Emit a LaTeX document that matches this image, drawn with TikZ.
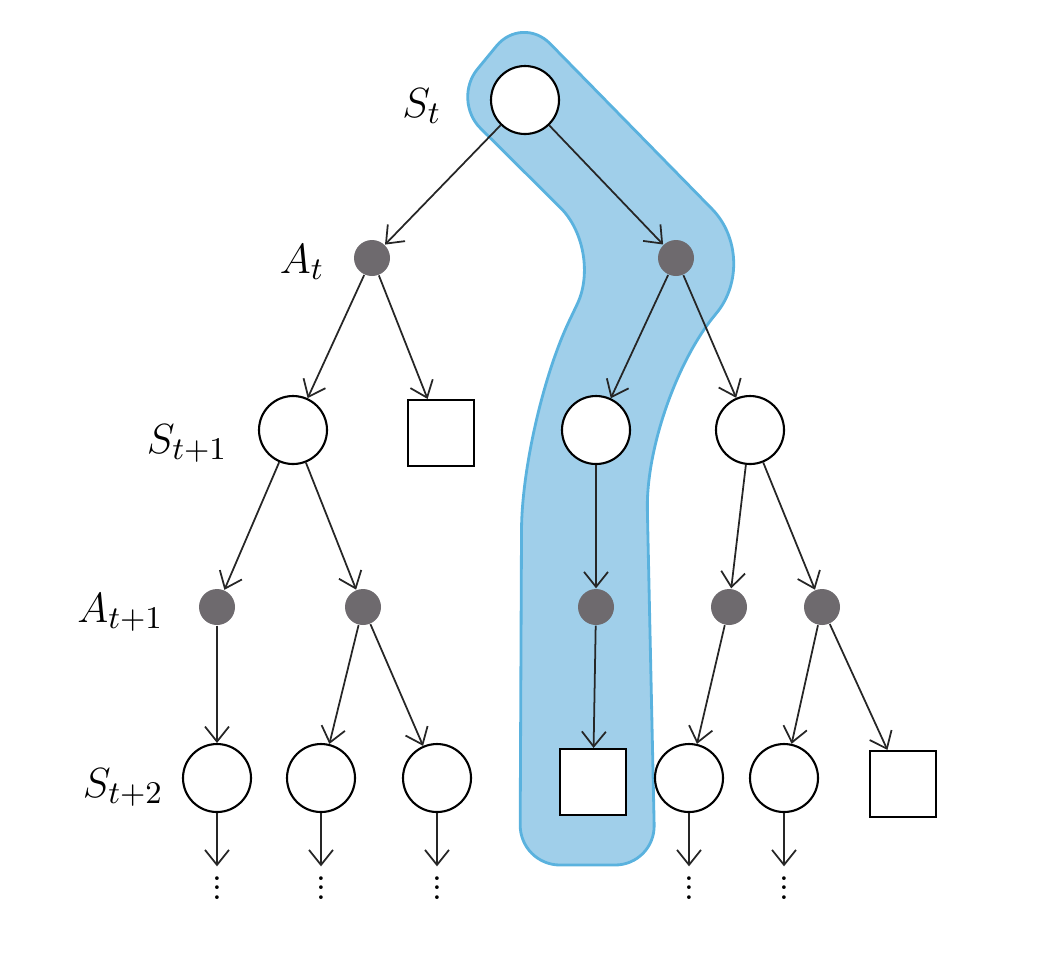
\documentclass[tikz,border=0pt]{standalone}
\usepackage{amsmath}
\usetikzlibrary{arrows.meta}
\definecolor{bandfill}{RGB}{160,207,234}
\definecolor{bandedge}{RGB}{90,178,222}
\definecolor{actgray}{RGB}{110,106,110}
\newcommand{\tdots}{\vbox{\baselineskip2.8pt\lineskiplimit0pt\hbox{.}\hbox{.}\hbox{.}}}

\begin{document}
\begin{tikzpicture}[>={Straight Barb[length=1.5mm,width=2.4mm]},
  state/.style={circle,draw,fill=white,minimum size=6.8mm,inner sep=0pt,line width=0.6pt},
  term/.style={rectangle,draw,fill=white,minimum size=6.6mm,inner sep=0pt,line width=0.6pt},
  act/.style={circle,fill=actgray,minimum size=3.6mm,inner sep=0pt},
  more/.style={inner sep=0pt,outer sep=1mm},
  lab/.style={anchor=base east,inner sep=0pt,font=\fontsize{13}{15}\selectfont},
  arr/.style={->,line width=0.5pt,draw=black!85}]
  \useasboundingbox (0,0) rectangle (10.46,-9.52);

  \draw[fill=bandfill,draw=bandedge,line width=0.8pt,line join=round]
    (5.20,-8.65) [rounded corners=11mm] -- (5.22,-4.20)
    [rounded corners=6mm] -- (6.03,-2.50)
    [rounded corners=4mm] -- (4.52,-1.00) -- (5.22,-0.15)
    [rounded corners=7mm] -- (7.61,-2.59)
    [rounded corners=11mm] -- (6.45,-4.00)
    [rounded corners=4mm] -- (6.55,-8.65) -- cycle;

  \node[state] (st) at (5.25,-1.00) {};
  \node[act] (a1) at (3.72,-2.58) {};
  \node[act] (a2) at (6.76,-2.58) {};

  \node[state] (s11) at (2.93,-4.30) {};
  \node[term]  (t11) at (4.41,-4.33) {};
  \node[state] (s12) at (5.96,-4.30) {};
  \node[state] (s13) at (7.50,-4.30) {};

  \node[act] (a11) at (2.17,-6.07) {};
  \node[act] (a12) at (3.63,-6.07) {};
  \node[act] (a13) at (5.96,-6.07) {};
  \node[act] (a14) at (7.29,-6.07) {};
  \node[act] (a15) at (8.22,-6.07) {};

  \node[state] (s21) at (2.17,-7.78) {};
  \node[state] (s22) at (3.21,-7.78) {};
  \node[state] (s23) at (4.37,-7.78) {};
  \node[term]  (t21) at (5.93,-7.82) {};
  \node[state] (s24) at (6.89,-7.78) {};
  \node[state] (s25) at (7.84,-7.78) {};
  \node[term]  (t22) at (9.03,-7.84) {};

  \node[more] (m1) at (2.17,-8.88) {\tdots};
  \node[more] (m2) at (3.21,-8.88) {\tdots};
  \node[more] (m3) at (4.37,-8.88) {\tdots};
  \node[more] (m4) at (6.89,-8.88) {\tdots};
  \node[more] (m5) at (7.84,-8.88) {\tdots};

  \node[lab] (lst) at (4.42,-1.17) {$S_t$};
  \node[lab] (la1) at (3.25,-2.73) {$A_t$};
  \node[lab] (ls1) at (2.28,-4.53) {$S_{t+1}$};
  \node[lab] (la2) at (1.64,-6.22) {$A_{t+1}$};
  \node[lab] (ls2) at (1.64,-7.97) {$S_{t+2}$};

  \draw[arr] (st) -- (a1);
  \draw[arr] (st) -- (a2);
  \draw[arr] (a1) -- (s11);
  \draw[arr] (a1) -- (t11);
  \draw[arr] (a2) -- (s12);
  \draw[arr] (a2) -- (s13);
  \draw[arr] (s11) -- (a11);
  \draw[arr] (s11) -- (a12);
  \draw[arr] (s12) -- (a13);
  \draw[arr] (s13) -- (a14);
  \draw[arr] (s13) -- (a15);
  \draw[arr] (a11) -- (s21);
  \draw[arr] (a12) -- (s22);
  \draw[arr] (a12) -- (s23);
  \draw[arr] (a13) -- (t21);
  \draw[arr] (a14) -- (s24);
  \draw[arr] (a15) -- (s25);
  \draw[arr] (a15) -- (t22);
  \draw[arr] (s21) -- (m1);
  \draw[arr] (s22) -- (m2);
  \draw[arr] (s23) -- (m3);
  \draw[arr] (s24) -- (m4);
  \draw[arr] (s25) -- (m5);
\end{tikzpicture}
\end{document}
